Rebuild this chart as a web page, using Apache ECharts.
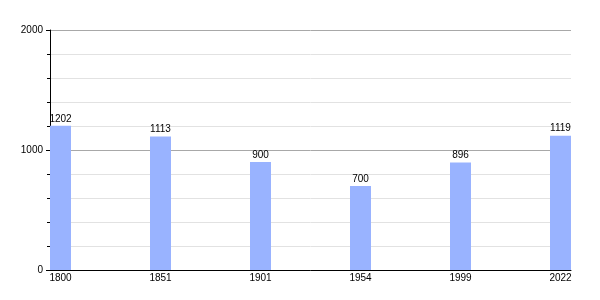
<!DOCTYPE html>
<html>
<head>
<meta charset="utf-8">
<script src="https://cdn.jsdelivr.net/npm/echarts@6/dist/echarts.min.js"></script>
<style>html,body{margin:0;padding:0;background:#fff}#c{width:600px;height:300px}</style>
</head>
<body>
<div id="c"></div>
<script>
var years = ['1800', '1851', '1901', '1954', '1999', '2022'];
var population = [1202, 1113, 900, 700, 896, 1119];
var yTicks = [0, 1000, 2000];

var chart = echarts.init(document.getElementById('c'), null, {renderer: 'canvas'});
var font = 'Liberation Sans, Arial, sans-serif';
chart.setOption({
  animation: false,
  backgroundColor: '#fff',
  grid: {left: 50, right: 29, top: 30, bottom: 30, containLabel: false},
  xAxis: {
    type: 'value',
    min: -0.105,
    max: 5.105,
    minInterval: 1,
    maxInterval: 1,
    axisLine: {show: true, onZero: false, lineStyle: {color: '#000', width: 1}},
    axisTick: {show: false},
    splitLine: {show: false},
    axisLabel: {
      color: '#000', fontSize: 10, fontFamily: font, margin: 3,
      showMinLabel: false, showMaxLabel: false,
      formatter: function (v) {
        var r = Math.round(v);
        return Math.abs(v - r) < 1e-6 && years[r] !== undefined ? years[r] : '';
      }
    }
  },
  yAxis: {
    type: 'value',
    min: yTicks[0],
    max: yTicks[yTicks.length - 1],
    interval: yTicks[1] - yTicks[0],
    axisLine: {show: true, onZero: false, lineStyle: {color: '#000', width: 1}},
    axisTick: {show: true, length: 4, lineStyle: {color: '#000'}},
    minorTick: {show: true, splitNumber: 5, length: 3, lineStyle: {color: '#000'}},
    splitLine: {show: true, lineStyle: {color: '#a8a8a8', width: 1}},
    minorSplitLine: {show: true, lineStyle: {color: '#e2e2e2', width: 1}},
    axisLabel: {color: '#000', fontSize: 10, fontFamily: font, margin: 7,
      formatter: function (v) { return String(v); }}
  },
  series: [{
    type: 'bar',
    barWidth: 21,
    itemStyle: {color: '#99b3ff'},
    label: {show: true, position: 'top', distance: 2, color: '#000', fontSize: 10, fontFamily: font,
      formatter: function (p) { return p.value[1]; }},
    data: population.map(function (v, i) { return [i, v]; })
  }]
});
</script>
</body>
</html>
